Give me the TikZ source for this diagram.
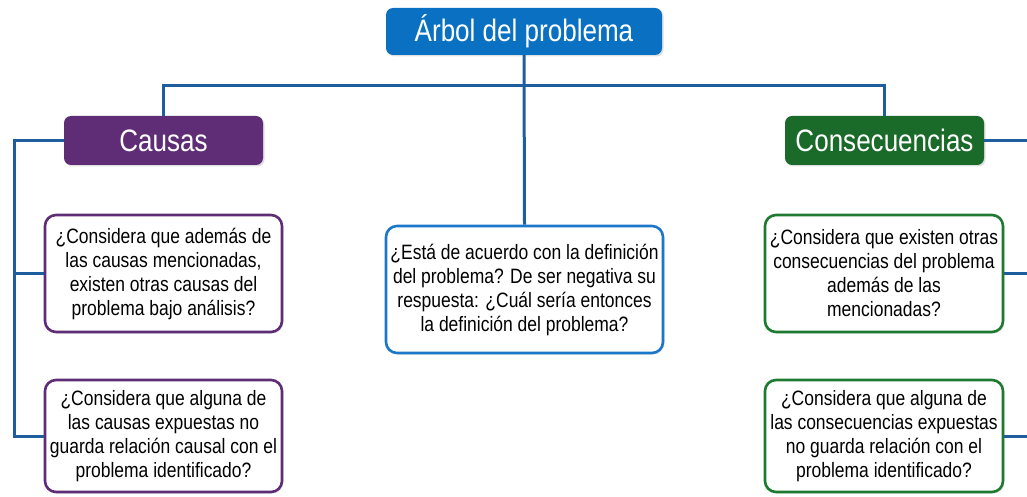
\documentclass[tikz,border=0pt]{standalone}
\usepackage{fontspec}
\setmainfont[FakeStretch=0.84]{Liberation Sans}
\usetikzlibrary{positioning, shadows}
\definecolor{titleblue}{HTML}{0A70C2}
\definecolor{linkblue}{HTML}{1F5E9E}
\definecolor{causapurple}{HTML}{5E2D76}
\definecolor{consgreen}{HTML}{1A6A2A}
\definecolor{consline}{HTML}{1F7A31}
\definecolor{centerline}{HTML}{1D77C9}
\tikzset{
	headbox/.style ={
		rounded corners=7pt,
		text=white,
		align=center,
		font={\fontsize{31}{34}\selectfont},
		drop shadow={opacity=0.25, shadow xshift=1.5pt, shadow yshift=-1.5pt},
	},
	question/.style={
		draw,
		fill=white,
		line width=2.6pt,
		rounded corners=11pt,
		align=center,
		inner sep=0pt,
		font={\fontsize{20.8}{24}\selectfont},
		drop shadow={opacity=0.2, shadow xshift=1.5pt, shadow yshift=-1.5pt},
	},
	link/.style={
		draw=linkblue,
		line width=3pt,
	},
}

\begin{document}
\begin{tikzpicture}[x=1pt, y=-1pt]
	\useasboundingbox (0,0) rectangle (1027,497);
	\clip (0,0) rectangle (1027,497);

	\node(title)[headbox, fill=titleblue, minimum width=276pt, minimum height=47pt] at (524,31.5) {\'Arbol del problema};
	\node(causas)[headbox, fill=causapurple, minimum width=199pt, minimum height=49pt] at (163.5,140.5) {Causas};
	\node(conseq)[headbox, fill=consgreen, minimum width=199pt, minimum height=49pt] at (884.5,140.5) {Consecuencias};

	\node(center)[question, draw=centerline, minimum width=277pt, minimum height=127pt] at (524.5,289.5)
		{¿Está de acuerdo con la definición\\ del problema? De ser negativa su\\ respuesta: ¿Cuál sería entonces\\ la definición del problema?};

	\node(causa1)[question, draw=causapurple, minimum width=237pt, minimum height=117pt] at (163.5,273.5)
		{¿Considera que además de\\ las causas mencionadas,\\ existen otras causas del\\ problema bajo análisis?};
	\node(causa2)[question, draw=causapurple, minimum width=237pt, minimum height=112pt] at (163.5,436)
		{¿Considera que alguna de\\ las causas expuestas no\\ guarda relación causal con el\\ problema identificado?};

	\node(cons1)[question, draw=consline, minimum width=238pt, minimum height=117pt] at (884,273.5)
		{¿Considera que existen otras\\ consecuencias del problema\\ además de las\\ mencionadas?};
	\node(cons2)[question, draw=consline, minimum width=238pt, minimum height=112pt] at (884,436)
		{¿Considera que alguna de\\ las consecuencias expuestas\\ no guarda relación con el\\ problema identificado?};

	% connectors
	\coordinate(hl) at (163.5,86);
	\coordinate(hr) at (884.5,86);
	\coordinate(spinel) at (14,0);
	\coordinate(spiner) at (1040,0);

	\path[link] (title.south) -- (center.north);
	\path[link] (causas.north) -- (hl) -- (hr) -- (conseq.north);
	\path[link] (causas.west) -| (spinel |- causa2.west) -- (causa2.west);
	\path[link] (spinel |- causa1.west) -- (causa1.west);
	\path[link] (conseq.east) -| (spiner |- cons2.east) -- (cons2.east);
	\path[link] (spiner |- cons1.east) -- (cons1.east);
\end{tikzpicture}
\end{document}
